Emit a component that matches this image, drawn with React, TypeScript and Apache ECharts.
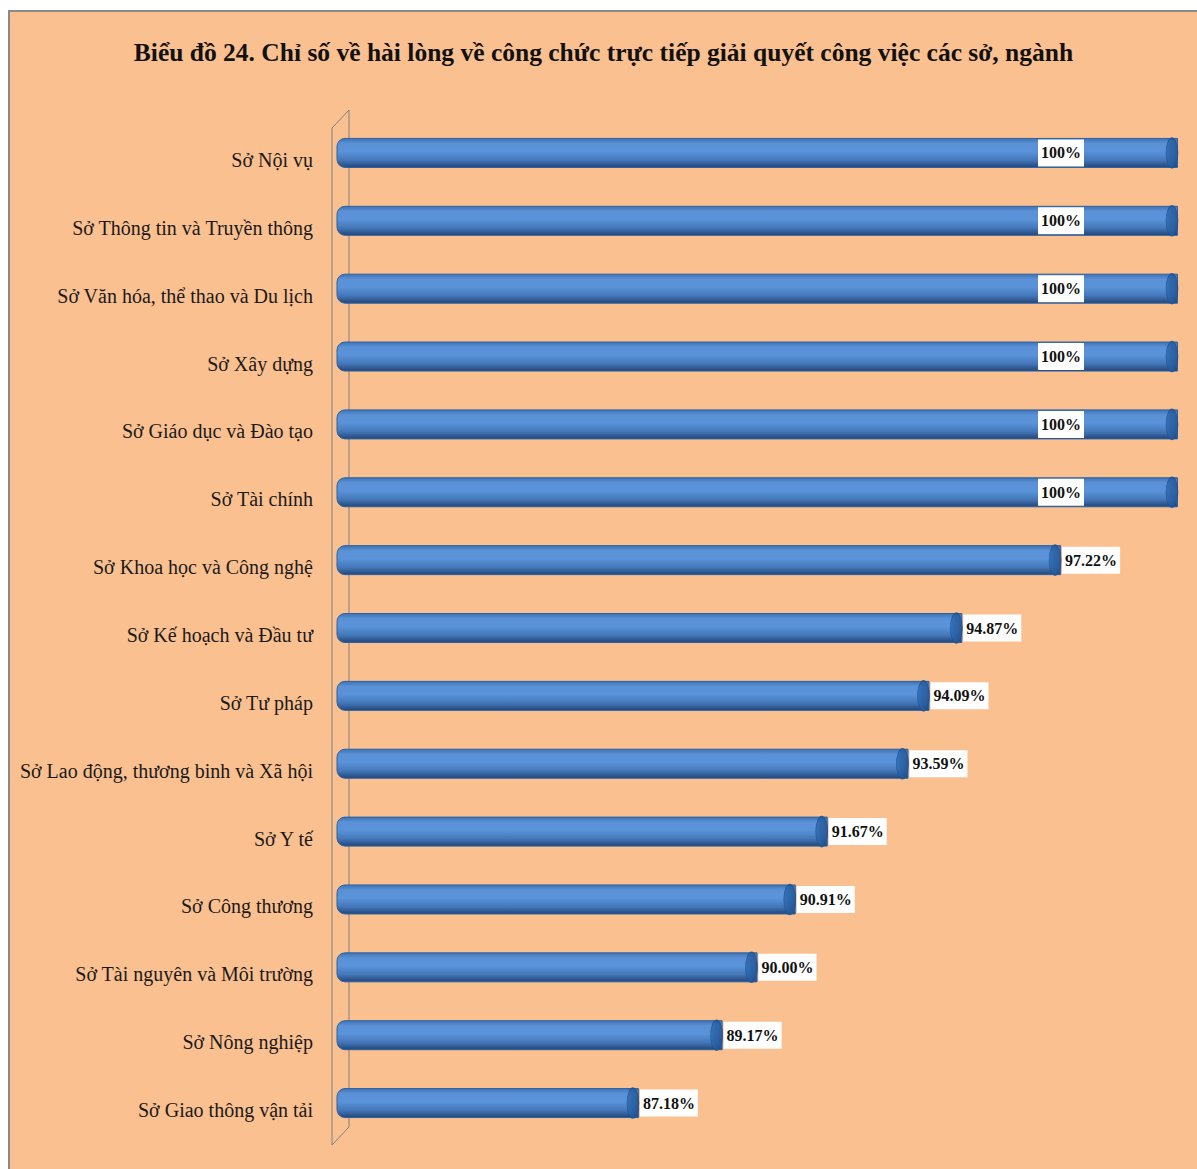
import React, { useEffect, useRef } from "react";
import * as echarts from "echarts";

const TITLE = "Biểu đồ 24. Chỉ số về hài lòng về công chức trực tiếp giải quyết công việc các sở, ngành";

const categories: string[] = [
  "Sở Nội vụ",
  "Sở Thông tin và Truyền thông",
  "Sở Văn hóa, thể thao và Du lịch",
  "Sở Xây dựng",
  "Sở Giáo dục và Đào tạo",
  "Sở Tài chính",
  "Sở Khoa học và Công nghệ",
  "Sở Kế hoạch và Đầu tư",
  "Sở Tư pháp",
  "Sở Lao động, thương binh và Xã hội",
  "Sở Y tế",
  "Sở Công thương",
  "Sở Tài nguyên và Môi trường",
  "Sở Nông nghiệp",
  "Sở Giao thông vận tải",
];

const values: number[] = [100, 100, 100, 100, 100, 100, 97.22, 94.87, 94.09, 93.59, 91.67, 90.91, 90.0, 89.17, 87.18];

const AXIS_MIN = 80;
const AXIS_MAX = 100;

const fmt = (v: number) => (v >= 100 ? "100%" : v.toFixed(2) + "%");

export default function App() {
  const ref = useRef<HTMLDivElement>(null);

  useEffect(() => {
    if (!ref.current) return;
    const chart = echarts.init(ref.current, undefined, { renderer: "svg" });

    const barGradient = new echarts.graphic.LinearGradient(0, 0, 0, 1, [
      { offset: 0, color: "#3E73B5" },
      { offset: 0.18, color: "#5B91D6" },
      { offset: 0.45, color: "#5A93DA" },
      { offset: 0.75, color: "#4477B8" },
      { offset: 1, color: "#22467A" },
    ]);
    const capGradient = new echarts.graphic.LinearGradient(0, 0, 1, 0, [
      { offset: 0, color: "#2D68AE" },
      { offset: 1, color: "#1E4F8C" },
    ]);

    const labelCommon = {
      show: true,
      formatter: (p: any) => fmt(p.value),
      color: "#111",
      fontFamily: "Liberation Serif",
      fontWeight: "bold" as const,
      fontSize: 16,
      backgroundColor: "#ffffff",
      padding: [6, 3, 5, 3],
    };

    const barData = values.map((v) => ({
      value: v,
      label:
        v >= 100
          ? { ...labelCommon, position: "insideRight", distance: 94 }
          : { ...labelCommon, position: "right", distance: 1 },
    }));

    chart.setOption({
      animation: false,
      backgroundColor: "#FAC090",
      title: {
        text: TITLE,
        left: "center",
        top: 22,
        textStyle: {
          fontFamily: "Liberation Serif",
          fontWeight: "bold",
          fontSize: 25.5,
          color: "#111",
        },
      },
      graphic: [
        {
          type: "polygon",
          z: 0,
          shape: {
            points: [
              [322, 116],
              [339, 98],
              [339, 1115],
              [322, 1133],
            ],
          },
          style: { fill: "none", stroke: "#808080", lineWidth: 1 },
        },
      ],
      grid: { left: 327, right: 19, top: 107, bottom: 32 },
      xAxis: {
        type: "value",
        min: AXIS_MIN,
        max: AXIS_MAX,
        show: false,
        splitLine: { show: false },
      },
      yAxis: {
        type: "category",
        data: categories,
        inverse: true,
        axisLine: { show: false },
        axisTick: { show: false },
        splitLine: { show: false },
        axisLabel: {
          margin: 24,
          formatter: (v: string) => `{a|${v}}`,
          rich: {
            a: {
              color: "#1a1a1a",
              fontFamily: "Liberation Serif",
              fontSize: 20,
              padding: [14, 0, 0, 0],
            },
          },
        },
      },
      series: [
        {
          type: "bar",
          data: barData,
          barWidth: 30,
          z: 2,
          itemStyle: {
            color: barGradient,
            borderColor: "#2D62A2",
            borderWidth: 1,
            borderRadius: [8, 0, 0, 8],
          },
        },
        {
          type: "scatter",
          data: values,
          z: 3,
          symbol: "path://M50,0 A50,50 0 1,1 50,100 A50,50 0 1,1 50,0 Z",
          symbolSize: [12, 30],
          symbolOffset: [-6, 0],
          symbolKeepAspect: false,
          itemStyle: {
            color: capGradient,
            borderColor: "#1C5296",
            borderWidth: 1,
          },
          label: { show: false },
          silent: true,
        },
      ],
    });

    return () => chart.dispose();
  }, []);

  return (
    <div
      style={{
        position: "absolute",
        left: 8,
        top: 10,
        width: 1189,
        height: 1159,
        boxSizing: "border-box",
        borderTop: "2px solid #8a8a8a",
        borderLeft: "2px solid #8a8a8a",
        background: "#FAC090",
      }}
    >
      <div ref={ref} style={{ width: 1187, height: 1157 }} />
    </div>
  );
}
